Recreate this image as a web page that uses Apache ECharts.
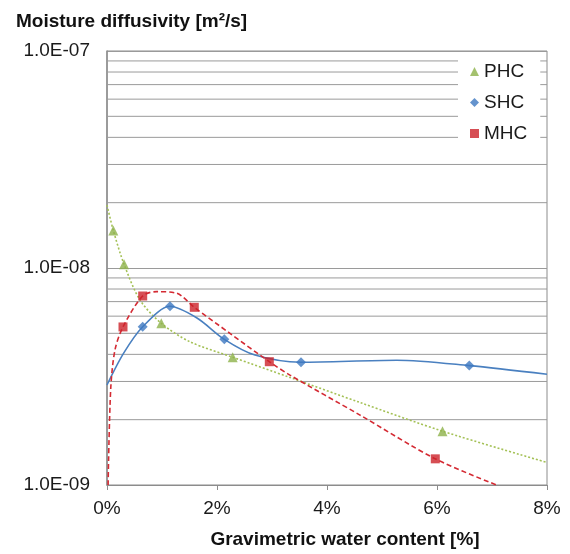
<!DOCTYPE html>
<html>
<head>
<meta charset="utf-8">
<script src="https://cdn.jsdelivr.net/npm/echarts@6/dist/echarts.min.js"></script>
<style>
html,body{margin:0;padding:0;background:#fff;}
#chart{width:570px;height:554px;}
</style>
</head>
<body>
<div id="chart"></div>
<script>
// ---- data (x: gravimetric water content in %, y: moisture diffusivity m2/s)
const seriesNames = ['PHC', 'SHC', 'MHC'];

const phcX = [0.115, 0.31, 0.987, 2.285, 6.10];
const phcY = [1.49e-8, 1.04e-8, 5.56e-9, 3.88e-9, 1.77e-9];

const shcX = [0.649, 1.145, 2.133, 3.527, 6.587];
const shcY = [5.36e-9, 6.66e-9, 4.69e-9, 3.68e-9, 3.55e-9];

const mhcX = [0.291, 0.649, 1.587, 2.951, 5.969];
const mhcY = [5.35e-9, 7.43e-9, 6.59e-9, 3.70e-9, 1.32e-9];

// fitted curves
const phcCurveX = [0, 0.115, 0.31, 0.6, 0.987, 1.51, 2.285, 3.327, 4.6, 6.10, 8];
const phcCurveY = [1.95e-8, 1.49e-8, 1.04e-8, 7.12e-9, 5.56e-9, 4.57e-9, 3.88e-9, 3.13e-9, 2.40e-9, 1.77e-9, 1.27e-9];

const shcCurveX = [0, 0.3, 0.649, 1.145, 1.636, 2.133, 2.69, 3.527, 5.267, 6.587, 8];
const shcCurveY = [2.89e-9, 4.04e-9, 5.36e-9, 6.66e-9, 5.88e-9, 4.69e-9, 3.97e-9, 3.68e-9, 3.76e-9, 3.55e-9, 3.24e-9];

const mhcCurveX = [0.02, 0.067, 0.145, 0.291, 0.649, 0.902, 1.267, 1.587, 2.235, 2.951, 3.327, 4.6, 5.969, 7.085];
const mhcCurveY = [1.0e-9, 2.76e-9, 4.19e-9, 5.35e-9, 7.43e-9, 7.78e-9, 7.65e-9, 6.59e-9, 5.0e-9, 3.70e-9, 3.21e-9, 2.10e-9, 1.32e-9, 1.0e-9];

// axis ticks
const xTicks = [0, 2, 4, 6, 8];
const yDecades = [1e-9, 1e-8, 1e-7];
const minorMultipliers = [2, 3, 4, 5, 6, 7, 8, 9];

const zip = (xs, ys) => xs.map((x, i) => [x, ys[i]]);
const font = 'Liberation Sans, Arial, sans-serif';

const gridValues = [];
yDecades.slice(0, -1).forEach(d => minorMultipliers.forEach(m => gridValues.push(d * m)));

const colors = { PHC: '#8db24a', SHC: '#3d78c0', MHC: '#cc2229' };
const lineColors = { PHC: '#a4c156', SHC: '#4a80c0', MHC: '#d42a33' };

const xMin = xTicks[0], xMax = xTicks[xTicks.length - 1];
const gridSeries = gridValues.map((v, i) => ({
  name: 'grid' + i, type: 'line', silent: true, showSymbol: false,
  data: [[xMin, v], [xMax, v]],
  lineStyle: { color: '#9a9a9a', width: 1, type: 'solid' },
  emphasis: { disabled: true },
  z: 1
}));

const chart = echarts.init(document.getElementById('chart'), null, { renderer: 'canvas' });
chart.setOption({
  animation: false,
  backgroundColor: '#fff',
  tooltip: { show: false },
  title: {
    text: 'Moisture diffusivity [m\u00b2/s]',
    left: 11, top: 7,
    textStyle: { fontFamily: font, fontSize: 19, fontWeight: 'bold', color: '#111' }
  },
  legend: {
    data: seriesNames,
    orient: 'vertical',
    left: 458, top: 56,
    padding: [6, 13, 10, 12],
    itemGap: 12,
    itemWidth: 9, itemHeight: 9,
    backgroundColor: '#fff',
    z: 10,
    textStyle: { fontFamily: font, fontSize: 19, color: '#1a1a1a' }
  },
  grid: {
    left: 107, right: 23, top: 51, bottom: 69,
    show: true, borderColor: '#8c8c8c', borderWidth: 1, backgroundColor: 'transparent'
  },
  xAxis: {
    type: 'value', min: xMin, max: xMax, interval: 2,
    axisLine: { show: true, lineStyle: { color: '#8c8c8c', width: 1 } },
    axisTick: { show: true, length: 5, lineStyle: { color: '#8c8c8c' } },
    splitLine: { show: false },
    axisLabel: { formatter: '{value}%', fontFamily: font, fontSize: 19, color: '#1a1a1a', margin: 14 },
    name: 'Gravimetric water content [%]',
    nameLocation: 'middle', nameGap: 45,
    nameTextStyle: { fontFamily: font, fontSize: 19, fontWeight: 'bold', color: '#111', padding: [0, 0, 0, 36] }
  },
  yAxis: {
    type: 'log', logBase: 10, min: yDecades[0], max: yDecades[yDecades.length - 1],
    axisLine: { show: true, lineStyle: { color: '#8c8c8c', width: 1.5 } },
    axisTick: { show: false },
    splitLine: { show: true, lineStyle: { color: '#9a9a9a', width: 1 } },
    axisLabel: {
      fontFamily: font, fontSize: 19, color: '#1a1a1a', margin: 17,
      formatter: v => {
        const e = Math.round(Math.log10(v));
        const s = String(Math.abs(e)).padStart(2, '0');
        return '1.0E' + (e < 0 ? '-' : '+') + s;
      }
    }
  },
  series: gridSeries.concat([
    {
      name: 'PHC curve', type: 'line', data: zip(phcCurveX, phcCurveY), smooth: 0.3,
      showSymbol: false, lineStyle: { color: lineColors.PHC, width: 1.6, type: [2, 2] }, z: 3
    },
    {
      name: 'SHC curve', type: 'line', data: zip(shcCurveX, shcCurveY), smooth: 0.3,
      showSymbol: false, lineStyle: { color: lineColors.SHC, width: 1.6, type: 'solid' }, z: 3
    },
    {
      name: 'MHC curve', type: 'line', data: zip(mhcCurveX, mhcCurveY), smooth: 0.3,
      showSymbol: false, lineStyle: { color: lineColors.MHC, width: 1.6, type: [5, 3] }, z: 3
    },
    {
      name: 'PHC', type: 'scatter', data: zip(phcX, phcY), symbol: 'triangle', symbolSize: 10,
      itemStyle: { color: colors.PHC }, z: 5
    },
    {
      name: 'SHC', type: 'scatter', data: zip(shcX, shcY), symbol: 'diamond', symbolSize: 10,
      itemStyle: { color: colors.SHC }, z: 5
    },
    {
      name: 'MHC', type: 'scatter', data: zip(mhcX, mhcY), symbol: 'rect', symbolSize: 9,
      itemStyle: { color: colors.MHC }, z: 5
    }
  ])
});
</script>
</body>
</html>
